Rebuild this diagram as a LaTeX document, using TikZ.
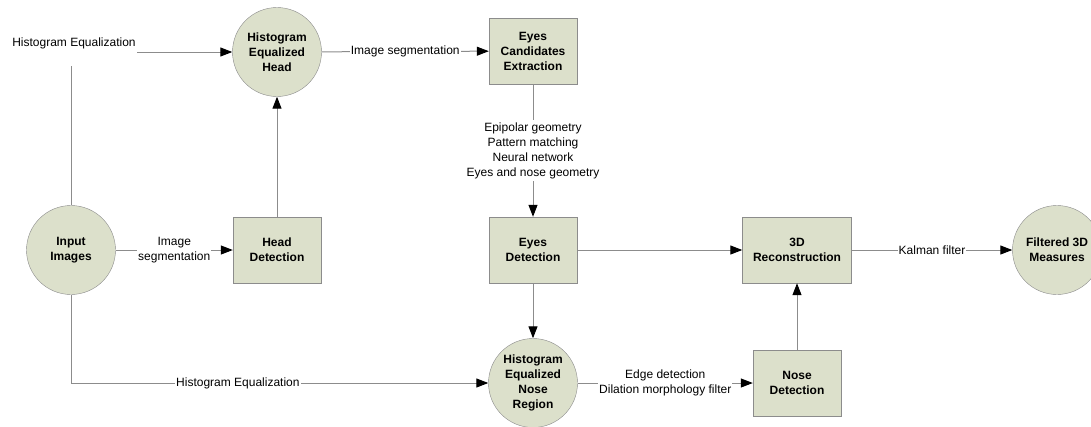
\documentclass[tikz,border=0pt]{standalone}
\usepackage{fontspec}
\setmainfont{Liberation Sans}
\usetikzlibrary{arrows.meta}
\definecolor{stagefill}{HTML}{DCE0CB}
\definecolor{stageline}{HTML}{8C8C8C}
\definecolor{wire}{HTML}{8C8C8C}
\tikzset{
  stage/.style={draw=stageline,fill=stagefill,minimum width=88pt,minimum height=66pt,
    inner sep=0pt,align=center,font=\fontsize{12}{15}\selectfont\bfseries},
  store/.style={circle,draw=stageline,fill=stagefill,minimum size=89pt,
    inner sep=0pt,align=center,font=\fontsize{12}{15}\selectfont\bfseries},
  wireline/.style={draw=wire,line width=1pt},
  lbl/.style={fill=white,inner xsep=1pt,inner ysep=2pt,align=center,
    font=\fontsize{12}{15}\selectfont},
  >={Triangle[length=12pt,width=9pt,black]}
}
\begin{document}
\begin{tikzpicture}[x=1pt,y=-1pt]
\fill[white] (0,0) rectangle (1091,426);
\useasboundingbox (0,0) rectangle (1091,426);
% circles
\node[store] (input) at (71,250) {Input\\Images};
\node[store] (headeq) at (277,52) {Histogram\\Equalized\\Head};
\node[store] (noseeq) at (533,383) {Histogram\\Equalized\\Nose\\Region};
\node[store] (measures) at (1057,250) {Filtered 3D\\Measures};
% boxes
\node[stage] (headdet) at (277,250) {Head\\Detection};
\node[stage] (eyescand) at (533,51) {Eyes\\Candidates\\Extraction};
\node[stage] (eyesdet) at (533,250) {Eyes\\Detection};
\node[stage] (nosedet) at (797,383) {Nose\\Detection};
\node[stage,minimum width=109pt] (recon) at (797,250) {3D\\Reconstruction};
% connectors
\draw[wireline,->] (input.north) |- (headeq.west)
  node[lbl,pos=0.5,xshift=3pt,yshift=9pt,minimum height=46pt] {Histogram Equalization};
\draw[wireline,->] (input.south) |- (noseeq.west)
  node[lbl,pos=0.7] {Histogram Equalization};
\draw[wireline,->] (input) -- (headdet) node[lbl,midway] {Image\\segmentation};
\draw[wireline,->] (headdet) -- (headeq);
\draw[wireline,->] (headeq) -- (eyescand) node[lbl,midway] {Image segmentation};
\draw[wireline,->] (eyescand) -- (eyesdet)
  node[lbl,midway] {Epipolar geometry\\Pattern matching\\Neural network\\Eyes and nose geometry};
\draw[wireline,->] (eyesdet) -- (noseeq);
\draw[wireline,->] (eyesdet) -- (recon);
\draw[wireline,->] (noseeq) -- (nosedet)
  node[lbl,midway] {Edge detection\\Dilation morphology filter};
\draw[wireline,->] (nosedet) -- (recon);
\draw[wireline,->] (recon) -- (measures) node[lbl,midway] {Kalman filter};
\end{tikzpicture}
\end{document}
